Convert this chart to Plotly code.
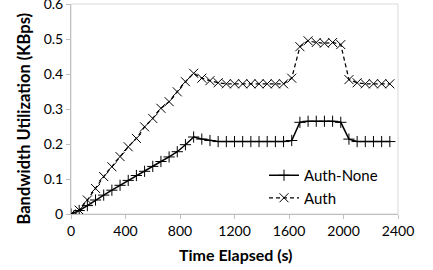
import plotly.graph_objects as go

# Time (s), sampled every 60 s
time_s = [0, 60, 120, 180, 240, 300, 360, 420, 480, 540, 600, 660, 720, 780, 840, 900,
          960, 1020, 1080, 1140, 1200, 1260, 1320, 1380, 1440, 1500, 1560, 1620,
          1680, 1740, 1800, 1860, 1920, 1980, 2040, 2100, 2160, 2220, 2280, 2340]

auth_none = [0.0, 0.010, 0.024, 0.040, 0.054, 0.068, 0.082, 0.096, 0.110, 0.122, 0.136,
             0.150, 0.163, 0.178, 0.198, 0.220,
             0.214, 0.210, 0.207, 0.207, 0.207, 0.207, 0.207, 0.207, 0.207, 0.207, 0.207, 0.210,
             0.262, 0.265, 0.265, 0.265, 0.265, 0.262,
             0.214, 0.207, 0.207, 0.207, 0.207, 0.207]

auth = [0.0, 0.011, 0.040, 0.073, 0.107, 0.135, 0.164, 0.192, 0.216, 0.249, 0.273,
        0.302, 0.321, 0.349, 0.378, 0.402,
        0.388, 0.381, 0.375, 0.372, 0.372, 0.372, 0.372, 0.372, 0.372, 0.372, 0.372, 0.388,
        0.478, 0.495, 0.490, 0.488, 0.490, 0.484,
        0.384, 0.375, 0.372, 0.372, 0.372, 0.372]

x_ticks = [0, 400, 800, 1200, 1600, 2000, 2400]
y_ticks = [0, 0.1, 0.2, 0.3, 0.4, 0.5, 0.6]
y_tick_text = ["0", "0.1", "0.2", "0.3", "0.4", "0.5", "0.6"]

FONT = "Lato"

fig = go.Figure()
fig.add_trace(go.Scatter(
    x=time_s, y=auth_none, name="Auth-None", mode="lines+markers",
    line=dict(color="black", width=1.5),
    marker=dict(symbol="cross-thin", size=8, line=dict(color="black", width=1)),
))
fig.add_trace(go.Scatter(
    x=time_s, y=auth, name="Auth", mode="lines+markers",
    line=dict(color="black", width=1.25, dash="4px,3px"),
    marker=dict(symbol="x-thin", size=9, line=dict(color="black", width=1)),
))

L, R, T, B = 71, 35, 4, 56
W, H = 433, 270
pw, ph = W - L - R, H - T - B

def px_x(px):
    return (px - L) / pw

def px_y(py):
    return (H - B - py) / ph

fig.update_layout(
    width=W, height=H,
    margin=dict(l=L, r=R, t=T, b=B, autoexpand=False),
    paper_bgcolor="white", plot_bgcolor="white",
    font=dict(family=FONT, color="black", size=14),
    showlegend=True,
    legend=dict(x=px_x(264), y=px_y(159), xanchor="left", yanchor="top",
                bgcolor="rgba(0,0,0,0)", font=dict(size=15, family=FONT),
                itemwidth=30),
    xaxis=dict(range=[0, 2400], tickvals=x_ticks, ticks="outside", ticklen=4,
               tickcolor="#bfbfbf", showline=True, linecolor="#bfbfbf", linewidth=1,
               showgrid=False, zeroline=False, tickfont=dict(size=14), automargin=False,
               ticklabeloverflow="allow"),
    yaxis=dict(range=[0, 0.6], tickvals=y_ticks, ticktext=y_tick_text, ticks="outside",
               ticklen=4, tickcolor="#bfbfbf", showline=True, linecolor="#bfbfbf",
               linewidth=1, showgrid=False, zeroline=False, tickfont=dict(size=14),
               automargin=False, ticklabeloverflow="allow"),
    shapes=[dict(type="rect", xref="paper", yref="paper", x0=0, x1=1, y0=0, y1=1,
                 line=dict(color="#d9d9d9", width=1), layer="below")],
    annotations=[
        dict(text="<b>Bandwidth Utilization (KBps)</b>", xref="paper", yref="paper",
             x=px_x(23), y=px_y(118.5), textangle=-90, showarrow=False,
             xanchor="center", yanchor="middle", font=dict(size=16.5, family=FONT)),
        dict(text="<b>Time Elapsed (s)</b>", xref="paper", yref="paper",
             x=px_x(235.5), y=px_y(254), showarrow=False,
             xanchor="center", yanchor="middle", font=dict(size=16, family=FONT)),
    ],
)

fig.write_html("out.html", config={"displayModeBar": False},
               post_script="document.body.style.margin='0';document.body.style.overflow='hidden';")
